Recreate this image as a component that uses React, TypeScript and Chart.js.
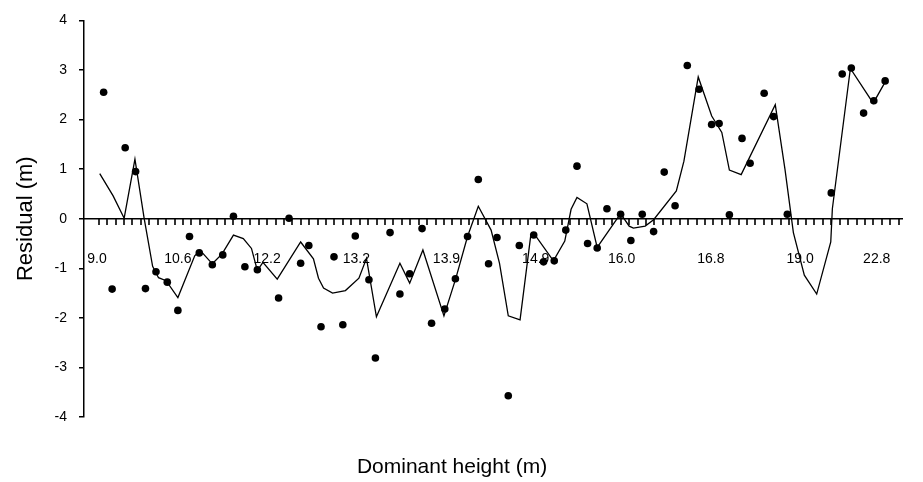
import React, { useEffect, useRef } from 'react';
import { Chart, registerables } from 'chart.js';

Chart.register(...registerables);

const FONT = '"Liberation Sans", Arial, Helvetica, sans-serif';

// Position of each observation along the sorted category axis (tick index units)
const pointPositions = [
  1.58, 2.59, 4.14, 5.38, 6.55, 7.8, 9.14, 10.4, 11.78, 12.94,
  14.49, 15.73, 17.0, 18.36, 19.84, 22.36, 23.6, 24.98, 25.95, 27.4,
  28.94, 29.99, 31.47, 33.09, 33.86, 35.6, 36.77, 37.93, 39.4, 40.53,
  42.1, 43.36, 44.8, 46.08, 47.3, 48.3, 49.64, 50.95, 52.66, 53.83,
  55.1, 56.47, 57.8, 59.06, 60.2, 61.36, 62.98, 64.2, 65.55, 66.9,
  68.16, 69.45, 70.9, 72.3, 73.79, 74.68, 75.9, 77.4, 78.36, 80.03,
  81.15, 82.78, 88.0, 89.3, 90.38, 91.84, 93.05, 94.4,
];

// Residual values (m) of the observations
const residuals = [
  2.55, -1.42, 1.43, 0.95, -1.41, -1.07, -1.28, -1.85, -0.36, -0.69,
  -0.93, -0.73, 0.05, -0.97, -1.03, -1.6, 0.01, -0.9, -0.54, -2.18,
  -0.77, -2.14, -0.35, -1.23, -2.81, -0.28, -1.52, -1.11, -0.2, -2.11,
  -1.82, -1.21, -0.36, 0.79, -0.91, -0.38, -3.57, -0.54, -0.33, -0.87,
  -0.85, -0.23, 1.06, -0.5, -0.59, 0.2, 0.09, -0.44, 0.09, -0.26,
  0.94, 0.26, 3.09, 2.61, 1.9, 1.92, 0.08, 1.62, 1.12, 2.53,
  2.06, 0.09, 0.52, 2.92, 3.04, 2.13, 2.38, 2.78,
];

// Fitted residual trend line
const linePositions = [
  1.12, 2.71, 4.02, 5.3, 6.4, 7.4, 8.1, 9.0, 10.4, 12.4,
  13.05, 14.49, 15.65, 17.0, 18.17, 19.14, 19.72, 19.9, 20.5, 22.2,
  24.98, 26.5, 27.1, 27.7, 28.77, 30.3, 31.9, 32.8, 33.98, 36.77,
  37.93, 39.5, 42.0, 43.4, 44.8, 46.08, 47.6, 48.6, 49.64, 51.04,
  52.3, 52.7, 55.0, 56.35, 57.1, 57.8, 58.98, 60.2, 62.98, 64.0,
  64.5, 65.9, 66.9, 69.6, 70.5, 72.2, 73.8, 75.0, 75.9, 77.3,
  81.35, 82.5, 83.5, 84.8, 86.27, 87.94, 88.13, 90.27, 92.98, 94.41,
];
const lineValues = [
  0.91, 0.46, 0.01, 1.2, 0.0, -0.96, -1.19, -1.25, -1.59, -0.75,
  -0.64, -0.91, -0.71, -0.33, -0.4, -0.6, -0.97, -1.03, -0.88, -1.22,
  -0.47, -0.81, -1.2, -1.4, -1.5, -1.45, -1.2, -0.8, -1.98, -0.9,
  -1.3, -0.63, -1.96, -1.21, -0.36, 0.25, -0.23, -0.9, -1.96, -2.04,
  -0.35, -0.3, -0.85, -0.45, 0.19, 0.43, 0.3, -0.58, 0.1, -0.15,
  -0.19, -0.15, -0.02, 0.56, 1.16, 2.86, 2.07, 1.74, 0.98, 0.89,
  2.3, 1.0, -0.28, -1.14, -1.52, -0.47, 0.2, 3.03, 2.33, 2.76,
];

// Dominant height labels and the category positions where they are printed
const tickLabels = ['9.0', '10.6', '12.2', '13.2', '13.9', '14.9', '16.0', '16.8', '19.0', '22.8'];
const tickLabelPositions = [0.8, 10.4, 21.0, 31.6, 42.3, 52.9, 63.1, 73.7, 84.3, 93.4];

const xTitle = 'Dominant height (m)';
const yTitle = 'Residual (m)';

const categoryCount = 96;
const X_MIN = -0.75;
const X_MAX = 96.5;

// Draws the x-axis title and the small category tick marks under the zero line
const axisExtrasPlugin = {
  id: 'axisExtras',
  afterDraw(chart: any) {
    const ctx = chart.ctx;
    const xs = chart.scales.x;
    const ys = chart.scales.y;
    const y0 = Math.round(ys.getPixelForValue(0));
    ctx.save();
    ctx.strokeStyle = '#000';
    ctx.lineWidth = 1.6;
    ctx.beginPath();
    for (let k = 1; k <= categoryCount; k++) {
      const px = Math.round(xs.getPixelForValue(k));
      ctx.moveTo(px, y0);
      ctx.lineTo(px, y0 + 6);
    }
    ctx.stroke();

    ctx.fillStyle = '#000';
    ctx.font = `21px ${FONT}`;
    ctx.textAlign = 'center';
    ctx.textBaseline = 'middle';
    ctx.fillText(xTitle, 452, 467);
    ctx.restore();
  },
};

export default function App() {
  const ref = useRef<HTMLCanvasElement>(null);

  useEffect(() => {
    document.body.style.margin = '0';
    const canvas = ref.current;
    if (!canvas) return;

    const points = pointPositions.map((x, i) => ({ x, y: residuals[i] }));
    const line = linePositions.map((x, i) => ({ x, y: lineValues[i] }));

    const chart = new Chart(canvas, {
      type: 'scatter',
      data: {
        datasets: [
          {
            label: 'Trend',
            data: line,
            showLine: true,
            borderColor: '#000',
            borderWidth: 1.3,
            pointRadius: 0,
            tension: 0,
            fill: false,
            xAxisID: 'x',
            yAxisID: 'y',
          },
          {
            label: 'Residual',
            data: points,
            showLine: false,
            pointRadius: 3.8,
            pointBackgroundColor: '#000',
            pointBorderColor: '#000',
            pointBorderWidth: 0,
            xAxisID: 'x',
            yAxisID: 'y',
          },
        ],
      },
      plugins: [axisExtrasPlugin],
      options: {
        responsive: false,
        animation: false,
        layout: { padding: { top: 16, right: 3, left: 0, bottom: 0 } },
        plugins: {
          legend: { display: false },
          tooltip: { enabled: false },
        },
        scales: {
          x: {
            type: 'linear',
            position: { y: 0 },
            min: X_MIN,
            max: X_MAX,
            ticks: { display: false },
            grid: { display: false },
            border: { display: true, color: '#000', width: 1.5 },
          },
          x2: {
            type: 'linear',
            axis: 'x',
            position: { y: 0 },
            min: X_MIN,
            max: X_MAX,
            afterBuildTicks: (scale: any) => {
              scale.ticks = tickLabelPositions.map((v) => ({ value: v }));
            },
            ticks: {
              autoSkip: false,
              maxRotation: 0,
              minRotation: 0,
              padding: 32,
              color: '#000',
              font: { family: FONT, size: 14 },
              callback: (_v: any, i: number) => tickLabels[i],
            },
            grid: { display: false, drawTicks: false },
            border: { display: false },
          },
          xBottom: {
            type: 'linear',
            axis: 'x',
            position: 'bottom',
            min: 0,
            max: 1,
            ticks: { display: false },
            grid: { display: false, drawTicks: false },
            border: { display: false },
            afterFit: (scale: any) => {
              scale.height = 65;
            },
          },
          y: {
            type: 'linear',
            position: 'left',
            min: -4,
            max: 4,
            ticks: {
              stepSize: 1,
              padding: 12,
              color: '#000',
              font: { family: FONT, size: 14 },
            },
            grid: {
              drawOnChartArea: false,
              drawTicks: true,
              tickLength: 5,
              color: '#000',
              lineWidth: 1.5,
            },
            border: { display: true, color: '#000', width: 1.5 },
            title: {
              display: true,
              text: yTitle,
              color: '#000',
              font: { family: FONT, size: 22 },
              padding: { top: 13, bottom: 0 },
            },
            afterFit: (scale: any) => {
              scale.width = 84;
            },
          },
        },
      } as any,
    });

    return () => chart.destroy();
  }, []);

  return (
    <div style={{ width: 923, height: 482, background: '#fff' }}>
      <canvas ref={ref} width={923} height={482} style={{ display: 'block' }} />
    </div>
  );
}
